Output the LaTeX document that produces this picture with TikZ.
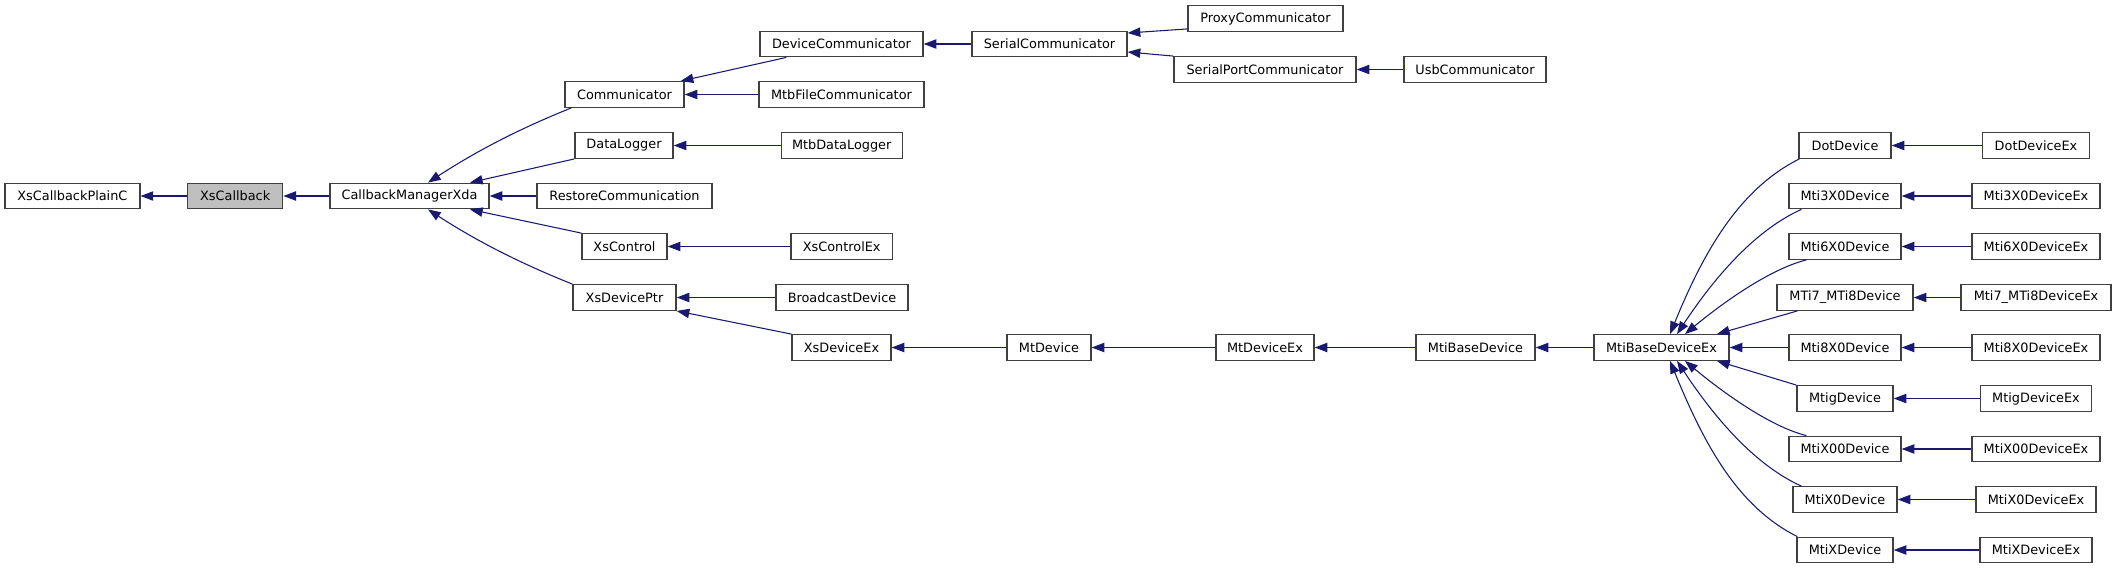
\documentclass[tikz,border=0pt]{standalone}
\usepackage{fontspec}
\setmainfont{DejaVu Sans}
\usetikzlibrary{arrows.meta,calc}

\definecolor{edgeblue}{HTML}{191970}
\definecolor{boxline}{HTML}{404040}
\definecolor{current}{HTML}{BFBFBF}

\begin{document}
\begin{tikzpicture}[x=0.75pt, y=-0.75pt,
	cls/.style={draw=boxline, line width=1pt, fill=white, minimum height=25.5*0.75pt,
		inner sep=0pt, font=\fontsize{9.65}{11}\selectfont},
	wd/.style={minimum width=#1*0.75pt},
	inh/.style={draw=edgeblue, line width=0.8pt, {Triangle[length=9.5pt, width=7pt, fill=edgeblue]}-}]
	\useasboundingbox (0,0) rectangle (2116,569);
	% left part
	\node [cls, wd=135] (plainc) at (72.4,196) {XsCallbackPlainC};
	\node [cls, wd=95, fill=current] (xscb) at (235.2,196) {XsCallback};
	\node [cls, wd=159] (cbm) at (409.5,196) {CallbackManagerXda};
	\node [cls, wd=119] (comm) at (624.5,94.5) {Communicator};
	\node [cls, wd=98] (dlog) at (624,145.5) {DataLogger};
	\node [cls, wd=175] (restore) at (624.5,196) {RestoreCommunication};
	\node [cls, wd=85] (xsctl) at (624.5,246.5) {XsControl};
	\node [cls, wd=103] (xsdp) at (624.5,297.5) {XsDevicePtr};
	\node [cls, wd=163] (devcomm) at (841.5,44) {DeviceCommunicator};
	\node [cls, wd=165] (mtbfile) at (841.5,94.5) {MtbFileCommunicator};
	\node [cls, wd=121] (mtbdlog) at (841.7,145.5) {MtbDataLogger};
	\node [cls, wd=101.5] (xsctlex) at (841.7,246.5) {XsControlEx};
	\node [cls, wd=132] (bcast) at (842,297.5) {BroadcastDevice};
	\node [cls, wd=99] (xsdex) at (841.5,347.5) {XsDeviceEx};
	% communicators
	\node [cls, wd=155] (serial) at (1049.5,44) {SerialCommunicator};
	\node [cls, wd=155] (proxy) at (1265.5,18.5) {ProxyCommunicator};
	\node [cls, wd=182] (sport) at (1265,69.5) {SerialPortCommunicator};
	\node [cls, wd=142] (usb) at (1475,69.5) {UsbCommunicator};
	% device chain
	\node [cls, wd=84] (mtdev) at (1049,347.5) {MtDevice};
	\node [cls, wd=98] (mtdevex) at (1265,347.5) {MtDeviceEx};
	\node [cls, wd=119] (mtibase) at (1475.5,347.5) {MtiBaseDevice};
	\node [cls, wd=135] (baseex) at (1661.5,347.5) {MtiBaseDeviceEx};
	% devices
	\node [cls, wd=92] (dot) at (1845,145.5) {DotDevice};
	\node [cls, wd=112] (mti3) at (1845,196) {Mti3X0Device};
	\node [cls, wd=112] (mti6) at (1845,246.5) {Mti6X0Device};
	\node [cls, wd=136] (mti7) at (1845,297.5) {MTi7\_MTi8Device};
	\node [cls, wd=112] (mti8) at (1845,347.5) {Mti8X0Device};
	\node [cls, wd=96] (mtig) at (1845,398.5) {MtigDevice};
	\node [cls, wd=112] (mtix00) at (1845,449) {MtiX00Device};
	\node [cls, wd=104] (mtix0) at (1845,499.5) {MtiX0Device};
	\node [cls, wd=96] (mtix) at (1845,550) {MtiXDevice};
	\node [cls, wd=107] (dotex) at (2036,145.5) {DotDeviceEx};
	\node [cls, wd=128] (mti3ex) at (2036,196) {Mti3X0DeviceEx};
	\node [cls, wd=128] (mti6ex) at (2036,246.5) {Mti6X0DeviceEx};
	\node [cls, wd=150] (mti7ex) at (2036,297.5) {Mti7\_MTi8DeviceEx};
	\node [cls, wd=128] (mti8ex) at (2036,347.5) {Mti8X0DeviceEx};
	\node [cls, wd=111] (mtigex) at (2036,398.5) {MtigDeviceEx};
	\node [cls, wd=128] (mtix00ex) at (2036,449) {MtiX00DeviceEx};
	\node [cls, wd=120] (mtix0ex) at (2036,499.5) {MtiX0DeviceEx};
	\node [cls, wd=112] (mtixex) at (2036,550) {MtiXDeviceEx};

	% inheritance edges, arrow at the base class
	\draw [inh] (plainc.east) -- (xscb.west);
	\draw [inh] (xscb.east) -- (cbm.west);
	\draw [inh] ($(cbm.north)+(18.5,0)$) .. controls +(50,-32.5) and +(-50,20) .. ($(comm.south west)+(7,0)$);
	\draw [inh] ($(cbm.north)+(60.5,0)$) -- (dlog.south west);
	\draw [inh] (cbm.east) -- (restore.west);
	\draw [inh] ($(cbm.south)+(60.5,0)$) -- (xsctl.north west);
	\draw [inh] ($(cbm.south)+(18.5,0)$) .. controls +(50,32.5) and +(-50,-20) .. (xsdp.north west);
	\draw [inh] ($(comm.north east)+(-4,0)$) -- ($(devcomm.south west)+(27,0)$);
	\draw [inh] (comm.east) -- (mtbfile.west);
	\draw [inh] (dlog.east) -- (mtbdlog.west);
	\draw [inh] (xsctl.east) -- (xsctlex.west);
	\draw [inh] (xsdp.east) -- (bcast.west);
	\draw [inh] (xsdp.south east) -- (xsdex.north west);
	\draw [inh] (devcomm.east) -- (serial.west);
	\draw [inh] ($(serial.east)+(0,-11)$) -- ($(proxy.south west)+(0,-3)$);
	\draw [inh] ($(serial.east)+(0,8)$) -- (sport.north west);
	\draw [inh] (sport.east) -- (usb.west);
	\draw [inh] (xsdex.east) -- (mtdev.west);
	\draw [inh] (mtdev.east) -- (mtdevex.west);
	\draw [inh] (mtdevex.east) -- (mtibase.west);
	\draw [inh] (mtibase.east) -- (baseex.west);
	\draw [inh] ($(baseex.north)+(8.5,0)$) .. controls +(34,-83) and +(-60,30) .. ($(dot.south west)+(1,0)$);
	\draw [inh] ($(baseex.north)+(15.5,0)$) .. controls +(33,-50) and +(-50,22.5) .. ($(mti3.south west)+(13,0)$);
	\draw [inh] ($(baseex.north)+(23.5,0)$) .. controls +(30,-25) and +(-40,10) .. ($(mti6.south west)+(18,0)$);
	\draw [inh] ($(baseex.north)+(55.5,0)$) -- ($(mti7.south west)+(21,0)$);
	\draw [inh] (baseex.east) -- (mti8.west);
	\draw [inh] ($(baseex.south)+(55.5,0)$) -- (mtig.north west);
	\draw [inh] ($(baseex.south)+(23.5,0)$) .. controls +(30,25) and +(-40,-10) .. ($(mtix00.north west)+(18,0)$);
	\draw [inh] ($(baseex.south)+(15.5,0)$) .. controls +(33,50) and +(-50,-22.5) .. ($(mtix0.north west)+(9,0)$);
	\draw [inh] ($(baseex.south)+(8.5,0)$) .. controls +(34,83) and +(-60,-30) .. ($(mtix.north west)+(1,0)$);
	\draw [inh] (dot.east) -- (dotex.west);
	\draw [inh] (mti3.east) -- (mti3ex.west);
	\draw [inh] (mti6.east) -- (mti6ex.west);
	\draw [inh] (mti7.east) -- (mti7ex.west);
	\draw [inh] (mti8.east) -- (mti8ex.west);
	\draw [inh] (mtig.east) -- (mtigex.west);
	\draw [inh] (mtix00.east) -- (mtix00ex.west);
	\draw [inh] (mtix0.east) -- (mtix0ex.west);
	\draw [inh] (mtix.east) -- (mtixex.west);
\end{tikzpicture}
\end{document}
